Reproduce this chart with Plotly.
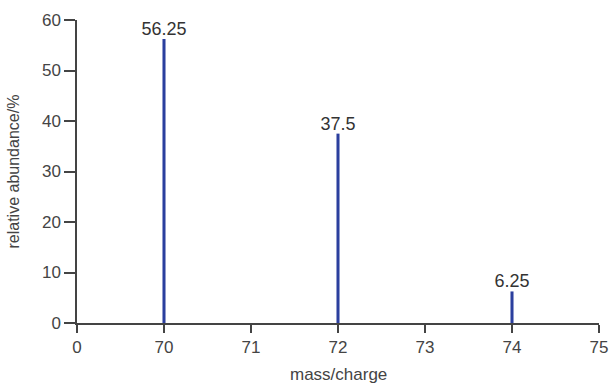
import plotly.graph_objects as go

tick_labels = ["0", "70", "71", "72", "73", "74", "75"]
mass_charge = ["70", "72", "74"]
abundance = [56.25, 37.5, 6.25]
value_labels = ["56.25", "37.5", "6.25"]

pos = [tick_labels.index(m) for m in mass_charge]

fig = go.Figure()
fig.add_trace(go.Bar(
    x=pos, y=abundance, width=0.035,
    marker=dict(color="#2B3F9E", line=dict(width=0)),
    text=value_labels, textposition="outside", cliponaxis=False,
    constraintext="none",
    textfont=dict(size=18, color="#333333"),
    hoverinfo="skip",
))

font = dict(family="Liberation Sans, Arial, sans-serif", size=17, color="#444444")
fig.update_layout(
    width=610, height=386,
    margin=dict(l=77, r=11, t=20, b=63, autoexpand=False),
    plot_bgcolor="white", paper_bgcolor="white",
    font=font, showlegend=False,
    xaxis=dict(
        range=[0, 6], tickmode="array", tickvals=list(range(len(tick_labels))),
        ticktext=tick_labels, showgrid=False, zeroline=False, automargin=False,
        showline=True, linecolor="#444444", linewidth=1.5,
        ticks="outside", ticklen=8, tickcolor="#444444", tickwidth=1.5,
    ),
    yaxis=dict(
        range=[0, 60], tickvals=[0, 10, 20, 30, 40, 50, 60], showgrid=False,
        zeroline=False, showline=True, linecolor="#444444", linewidth=1.5,
        automargin=False,
        ticks="outside", ticklen=11, tickcolor="#444444", tickwidth=1.5,
    ),
    annotations=[
        dict(text="mass/charge", xref="paper", yref="paper", x=0.5, y=0.0,
             yshift=-51, xanchor="center", yanchor="middle", showarrow=False,
             font=dict(size=17, color="#444444")),
        dict(text="relative abundance/%", xref="paper", yref="paper", x=0, y=0.5,
             xshift=-64, xanchor="center", yanchor="middle", textangle=-90,
             showarrow=False, font=dict(size=16, color="#444444")),
    ],
)
fig.write_html(
    "out.html",
    config={"displayModeBar": False},
    post_script="document.body.style.margin='0';document.body.style.overflow='hidden';",
)
